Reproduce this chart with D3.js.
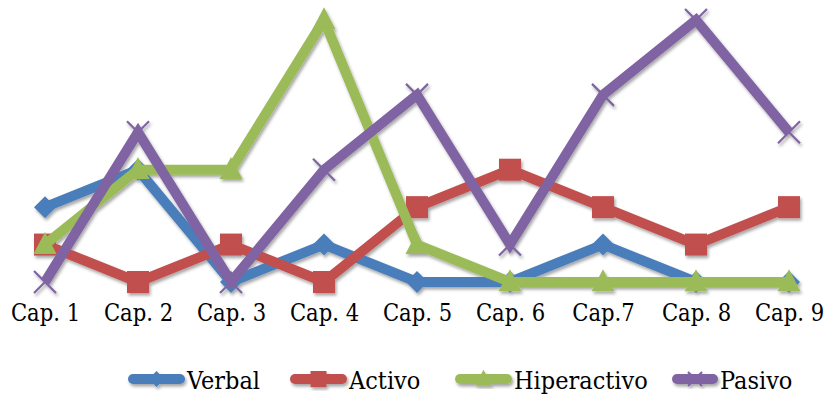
<!DOCTYPE html>
<html><head><meta charset="utf-8">
<script src="https://cdn.jsdelivr.net/npm/d3@7"></script>
<style>body{margin:0;background:#fff}svg{display:block}text{font-family:"DejaVu Serif Condensed","DejaVu Serif",serif}</style>
</head><body>
<svg id="c" width="825" height="396"></svg>
<script>
const categories = ["Cap. 1","Cap. 2","Cap. 3","Cap. 4","Cap. 5","Cap. 6","Cap.7","Cap. 8","Cap. 9"];
const seriesNames = ["Verbal","Activo","Hiperactivo","Pasivo"];
const verbal      = [2,3,0,1,0,0,1,0,0];
const activo      = [1,0,1,0,2,3,2,1,2];
const hiperactivo = [1,3,3,7,1,0,0,0,0];
const pasivo      = [0,4,0,3,5,1,5,7,4];
const colors = ["#4A7EBB","#C0504D","#9BBB59","#8064A2"];
const symbols = ["diamond","square","triangle","x"];

const series = seriesNames.map((n,i)=>({name:n, values:[verbal,activo,hiperactivo,pasivo][i], color:colors[i], sym:symbols[i]}));
const FONT = '"DejaVu Serif Condensed","DejaVu Serif",serif';

const svg = d3.select("#c");
const defs = svg.append("defs");
const f = defs.append("filter").attr("id","sh").attr("x","-20%").attr("y","-20%").attr("width","140%").attr("height","140%");
f.append("feDropShadow").attr("dx",1.5).attr("dy",2.5).attr("stdDeviation",1.6).attr("flood-color","#000").attr("flood-opacity",0.35);

const x = d3.scalePoint().domain(categories).range([45,789]);
const y = d3.scaleLinear().domain([0,7]).range([282,20]);

// x axis labels only
const ax = svg.append("g").attr("transform","translate(0,299)")
  .call(d3.axisBottom(x).tickSize(0).tickPadding(0));
ax.select(".domain").remove();
ax.attr("font-family",null).attr("font-size",null);
ax.selectAll("text").style("font-family",FONT).style("font-size","23.5px").attr("fill","#000").attr("dy","0.95em");

function marker(g, sym, cx, cy, color, s){
  if(sym==="diamond"){
    g.append("path").attr("d",`M${cx},${cy-s}L${cx+s},${cy}L${cx},${cy+s}L${cx-s},${cy}Z`).attr("fill",color);
  } else if(sym==="square"){
    g.append("rect").attr("x",cx-s).attr("y",cy-s).attr("width",2*s).attr("height",2*s).attr("fill",color);
  } else if(sym==="triangle"){
    g.append("path").attr("d",`M${cx},${cy-s*1.15}L${cx+s*1.05},${cy+s*0.85}L${cx-s*1.05},${cy+s*0.85}Z`).attr("fill",color);
  } else {
    g.append("path").attr("d",`M${cx-s},${cy-s}L${cx+s},${cy+s}M${cx+s},${cy-s}L${cx-s},${cy+s}`).attr("stroke",color).attr("stroke-width",2.2).attr("fill","none");
  }
}

const line = d3.line().x((d,i)=>x(categories[i])).y(d=>y(d));
const plot = svg.append("g").attr("filter","url(#sh)");
const sizes = {diamond:11, square:11, triangle:11, x:11};
series.forEach(s=>{
  const g = plot.append("g");
  g.append("path").datum(s.values).attr("d",line).attr("fill","none").attr("stroke",s.color)
   .attr("stroke-width",10).attr("stroke-linejoin","miter").attr("stroke-miterlimit",2);
  s.values.forEach((v,i)=>marker(g, s.sym, x(categories[i]), y(v), s.color, sizes[s.sym]));
});

// legend
const legX = [128,290,455,672];
const leg = svg.append("g");
series.forEach((s,i)=>{
  const g = leg.append("g").attr("filter","url(#sh)");
  const x0 = legX[i], x1 = x0+ (i===3?46:57), cy = 379;
  g.append("line").attr("x1",x0+5).attr("x2",x1-5).attr("y1",cy).attr("y2",cy)
   .attr("stroke",s.color).attr("stroke-width",10).attr("stroke-linecap","round");
  marker(g, s.sym, (x0+x1)/2, cy, s.color, s.sym==="x"?7:8);
  leg.append("text").attr("x",x1+2).attr("y",389).style("font-family",FONT).style("font-size","25px")
   .attr("fill","#000").text(s.name);
});
</script>
</body></html>
